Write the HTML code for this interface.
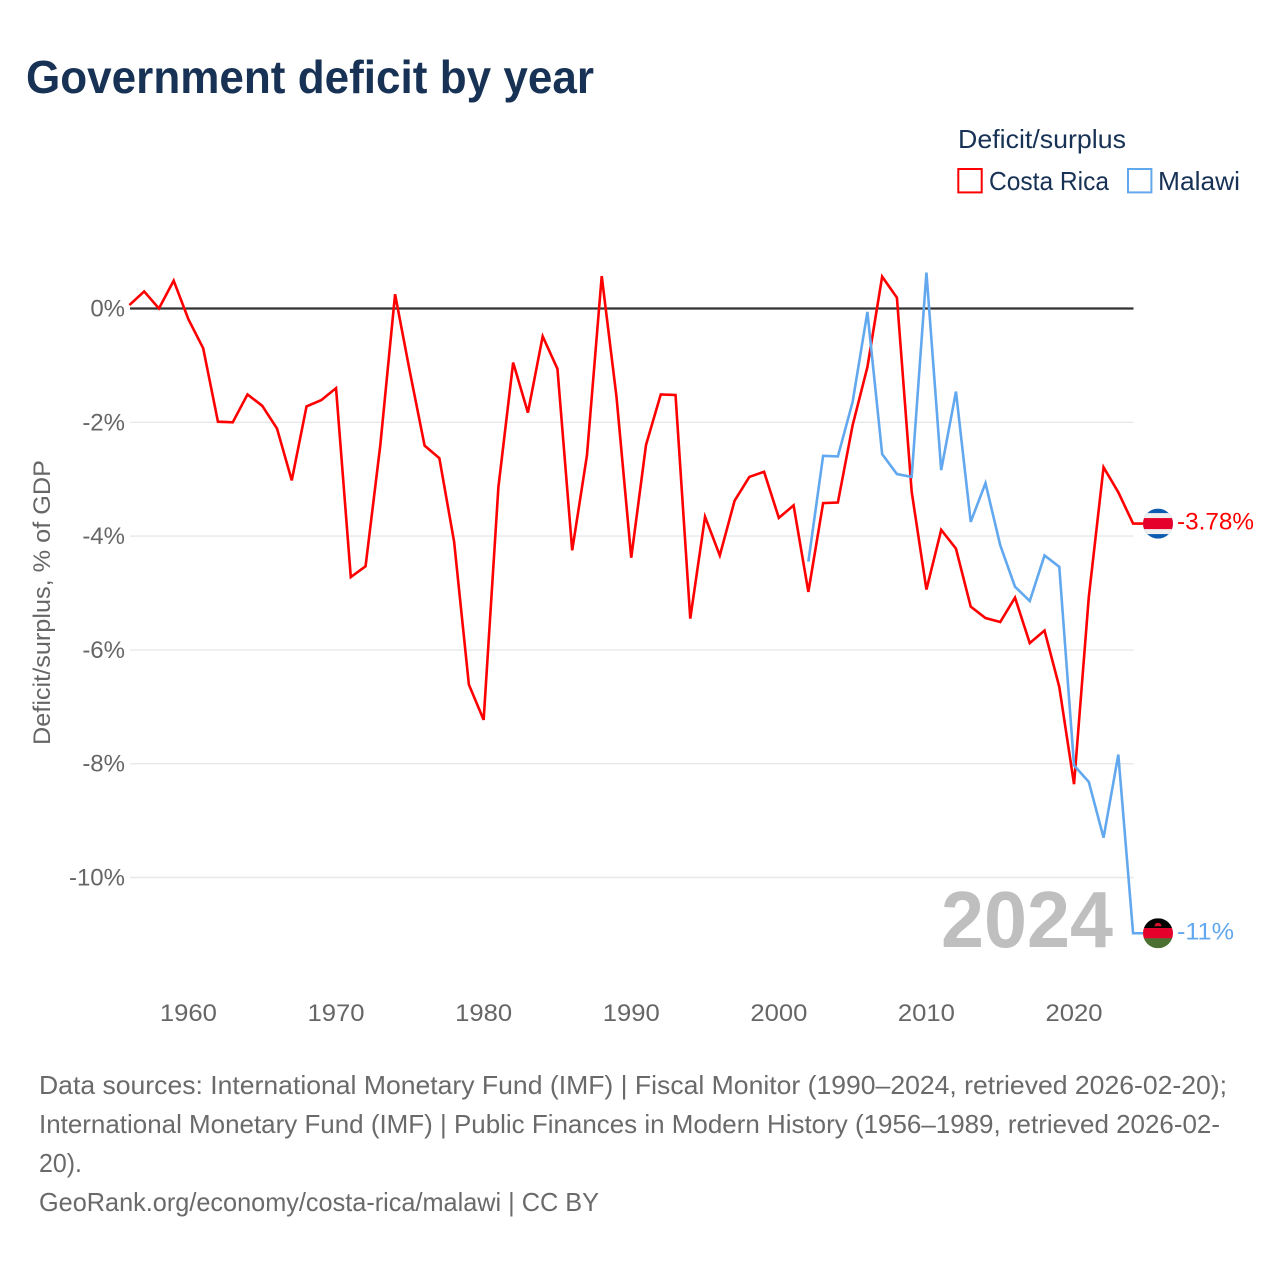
<!DOCTYPE html>
<html lang="en">
<head>
<meta charset="utf-8">
<title>Government deficit by year</title>
<style>
html,body{margin:0;padding:0;background:#fff;}
body{width:1280px;height:1280px;overflow:hidden;}
svg{display:block;font-family:"Liberation Sans",sans-serif;}
</style>
</head>
<body>
<svg id="chart" xmlns="http://www.w3.org/2000/svg" width="1280" height="1280" viewBox="0 0 1280 1280">
  <rect x="0" y="0" width="1280" height="1280" fill="#ffffff"/>
  <text x="26" y="93" font-size="46" font-weight="700" fill="#173254" textLength="568" lengthAdjust="spacingAndGlyphs">Government deficit by year</text>

  <g>
    <text x="958" y="148" font-size="26" fill="#173254" textLength="168" lengthAdjust="spacingAndGlyphs">Deficit/surplus</text>
    <g>
      <rect x="958.3" y="169" width="23.4" height="23.4" fill="none" stroke="#ff0000" stroke-width="2"/>
      <text x="989" y="190" font-size="26" fill="#173254" textLength="120" lengthAdjust="spacingAndGlyphs">Costa Rica</text>
    </g>
    <g>
      <rect x="1128" y="169" width="23.4" height="23.4" fill="none" stroke="#62a8ee" stroke-width="2"/>
      <text x="1158" y="190" font-size="26" fill="#173254" textLength="82" lengthAdjust="spacingAndGlyphs">Malawi</text>
    </g>
  </g>

  <text transform="translate(50,745) rotate(-90)" x="0" y="0" font-size="24" fill="#666666" textLength="285" lengthAdjust="spacingAndGlyphs">Deficit/surplus, % of GDP</text>

  <g id="grid"></g>
  <g id="yticks"></g>
  <g id="xticks"></g>

  <text x="941" y="947" font-size="80" font-weight="700" fill="#bfbfbf" textLength="172" lengthAdjust="spacingAndGlyphs">2024</text>

  <g id="series"></g>

  <g id="flag-cr">
    <clipPath id="clip-cr"><circle cx="0" cy="0" r="15"/></clipPath>
    <g clip-path="url(#clip-cr)">
      <rect x="-15" y="-15" width="30" height="30" fill="#0b5cb0"/>
      <rect x="-15" y="-10.5" width="30" height="21" fill="#efefef"/>
      <rect x="-15" y="-5.5" width="30" height="11" fill="#e4002b"/>
    </g>
  </g>
  <g id="flag-mw">
    <clipPath id="clip-mw"><circle cx="0" cy="0" r="15"/></clipPath>
    <g clip-path="url(#clip-mw)">
      <rect x="-15" y="-15" width="30" height="10" fill="#000000"/>
      <rect x="-15" y="-5.2" width="30" height="10.4" fill="#e4002b"/>
      <rect x="-15" y="5" width="30" height="10" fill="#4c7031"/>
      <path d="M-3.5,-7 A3.5,3.5 0 0 1 3.5,-7 Z" fill="#d2152c"/>
    </g>
  </g>
  <text id="label-cr" x="1177" font-size="24" fill="#ff0000" textLength="77" lengthAdjust="spacingAndGlyphs"></text>
  <text id="label-mw" x="1177" font-size="24" fill="#62a8ee" textLength="57" lengthAdjust="spacingAndGlyphs"></text>

  <g font-size="26" fill="#6a6a6a">
    <text x="39" y="1094" textLength="1188" lengthAdjust="spacingAndGlyphs">Data sources: International Monetary Fund (IMF) | Fiscal Monitor (1990–2024, retrieved 2026-02-20);</text>
    <text x="39" y="1133" textLength="1181" lengthAdjust="spacingAndGlyphs">International Monetary Fund (IMF) | Public Finances in Modern History (1956–1989, retrieved 2026-02-</text>
    <text x="39" y="1172" textLength="43" lengthAdjust="spacingAndGlyphs">20).</text>
    <text x="39" y="1211" textLength="560" lengthAdjust="spacingAndGlyphs">GeoRank.org/economy/costa-rica/malawi | CC BY</text>
  </g>
</svg>
<script>
const costaRicaStartYear = 1956;
const malawiStartYear = 2002;
const costaRicaValues = [
  0.06, 0.30, 0, 0.49,
  -0.19, -0.70, -1.99, -2.00, -1.51, -1.71, -2.11, -3.02, -1.72, -1.61,
  -1.40, -4.72, -4.53, -2.40, 0.25, -1.11, -2.41, -2.63, -4.10, -6.61,
  -7.23, -3.14, -0.95, -1.83, -0.49, -1.06, -4.25, -2.58, 0.57, -1.55,
  -4.38, -2.40, -1.51, -1.52, -5.45, -3.66, -4.34, -3.38, -2.96, -2.87,
  -3.68, -3.46, -4.98, -3.42, -3.41, -2.05, -1.03, 0.56, 0.19, -3.22,
  -4.94, -3.89, -4.22, -5.24, -5.44, -5.51, -5.08, -5.88, -5.66, -6.65,
  -8.36, -5.07, -2.79, -3.23, -3.78
];
const malawiValues = [
  -4.45, -2.59, -2.60, -1.64, -0.06, -2.56, -2.91, -2.96,
  0.63, -2.84, -1.46, -3.75, -3.07, -4.16, -4.89, -5.14, -4.34, -4.54,
  -8.03, -8.32, -9.30, -7.84, -10.98
];
const yTickValues = [0, -2, -4, -6, -8, -10];
const yTickLabels = ["0%", "-2%", "-4%", "-6%", "-8%", "-10%"];
const xTickYears = [1960, 1970, 1980, 1990, 2000, 2010, 2020];
const costaRicaLabel = "-3.78%";
const malawiLabel = "-11%";

const NS = "http://www.w3.org/2000/svg";
function xScale(year) { return 129.4 + (year - 1956) * 14.76; }
function yScale(value) { return 308.5 - value * 56.9; }

const gridGroup = document.getElementById("grid");
const yTickGroup = document.getElementById("yticks");
const xTickGroup = document.getElementById("xticks");
const seriesGroup = document.getElementById("series");

yTickValues.forEach(function (value, i) {
  const line = document.createElementNS(NS, "line");
  
  
  line.setAttribute("x1", 130);
  line.setAttribute("x2", 1133.5);
  line.setAttribute("y1", yScale(value));
  line.setAttribute("y2", yScale(value));
  line.setAttribute("stroke", value === 0 ? "#333333" : "#e8e8e8");
  line.setAttribute("stroke-width", value === 0 ? 2.2 : 1.4);
  gridGroup.appendChild(line);

  const label = document.createElementNS(NS, "text");
  
  
  label.setAttribute("x", 125);
  label.setAttribute("y", yScale(value) + 8);
  label.setAttribute("text-anchor", "end");
  label.setAttribute("font-size", 24);
  label.setAttribute("fill", "#666666");
  label.textContent = yTickLabels[i];
  yTickGroup.appendChild(label);
});

xTickYears.forEach(function (year) {
  const label = document.createElementNS(NS, "text");
  
  
  label.setAttribute("x", xScale(year));
  label.setAttribute("y", 1021);
  label.setAttribute("text-anchor", "middle");
  label.setAttribute("font-size", 24);
  label.setAttribute("fill", "#666666");
  label.setAttribute("textLength", 57);
  label.setAttribute("lengthAdjust", "spacingAndGlyphs");
  label.textContent = String(year);
  xTickGroup.appendChild(label);
});

function seriesPoints(startYear, values) {
  const pts = values.map(function (v, i) {
    return xScale(startYear + i).toFixed(2) + "," + yScale(v).toFixed(2);
  });
  const last = values[values.length - 1];
  pts.push("1143," + yScale(last).toFixed(2));
  return pts.join(" ");
}

const costaRicaLine = document.createElementNS(NS, "polyline");


costaRicaLine.setAttribute("points", seriesPoints(costaRicaStartYear, costaRicaValues));
costaRicaLine.setAttribute("fill", "none");
costaRicaLine.setAttribute("stroke", "#ff0000");
costaRicaLine.setAttribute("stroke-width", 2.6);
seriesGroup.appendChild(costaRicaLine);

const malawiLine = document.createElementNS(NS, "polyline");


malawiLine.setAttribute("points", seriesPoints(malawiStartYear, malawiValues));
malawiLine.setAttribute("fill", "none");
malawiLine.setAttribute("stroke", "#62a8ee");
malawiLine.setAttribute("stroke-width", 2.6);
seriesGroup.appendChild(malawiLine);

const crEndY = yScale(costaRicaValues[costaRicaValues.length - 1]);
const mwEndY = yScale(malawiValues[malawiValues.length - 1]);
document.getElementById("flag-cr").setAttribute("transform", "translate(1158," + crEndY + ")");
document.getElementById("flag-mw").setAttribute("transform", "translate(1158," + mwEndY + ")");
const labelCr = document.getElementById("label-cr");
labelCr.setAttribute("y", crEndY + 6);
labelCr.textContent = costaRicaLabel;
const labelMw = document.getElementById("label-mw");
labelMw.setAttribute("y", mwEndY + 6);
labelMw.textContent = malawiLabel;
</script>
</body>
</html>
